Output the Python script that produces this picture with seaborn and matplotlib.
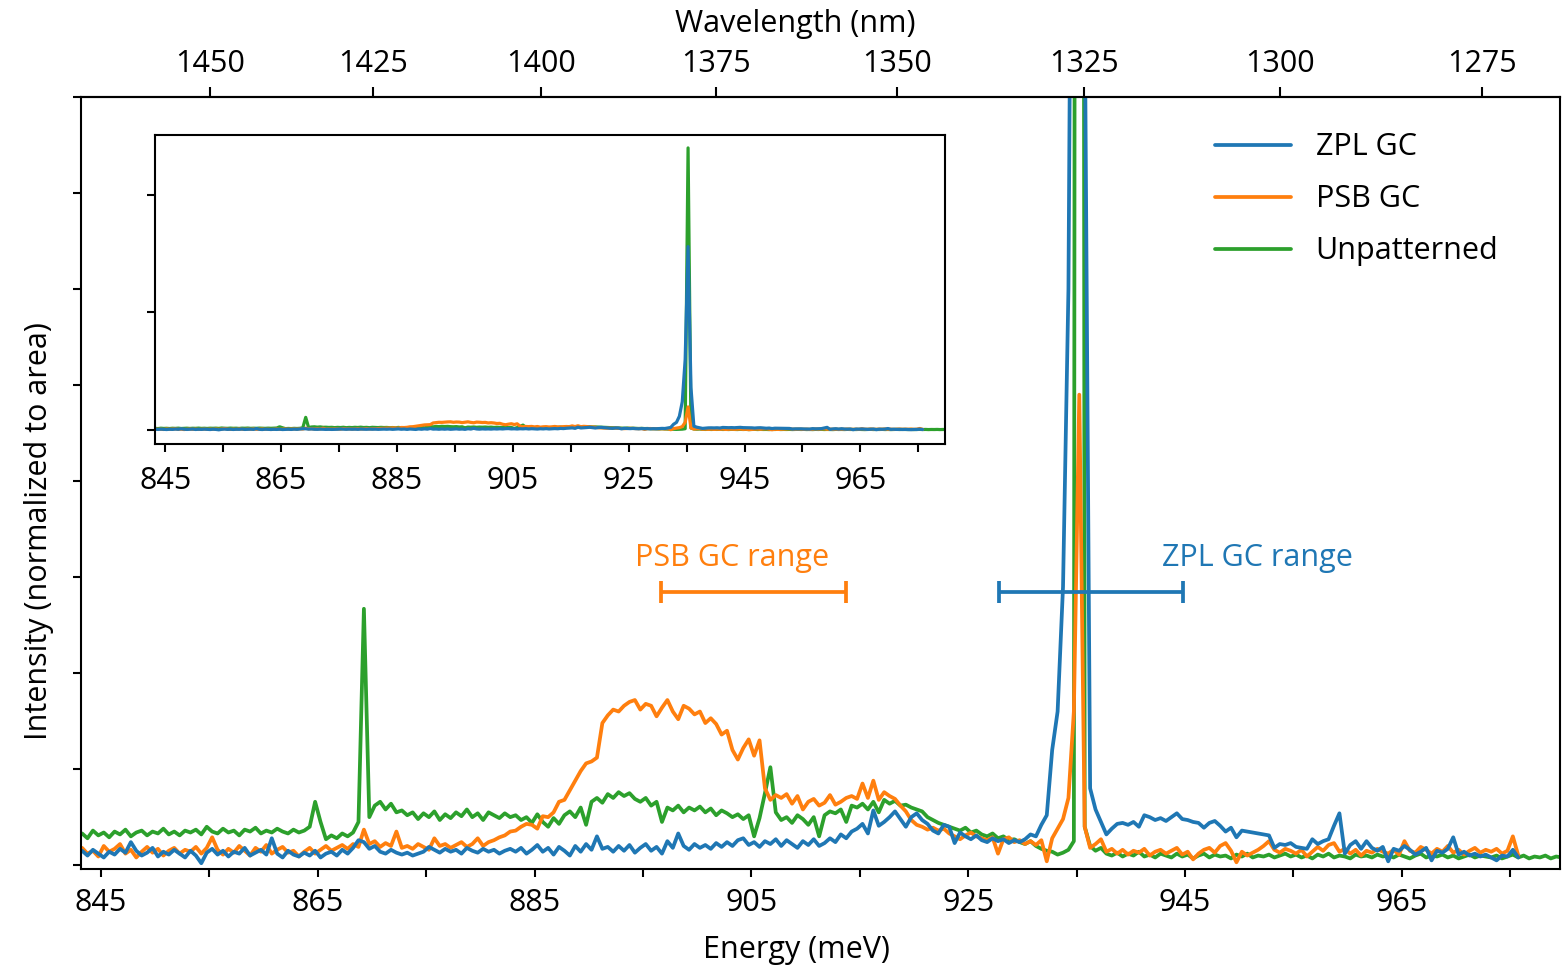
import numpy as np
import pandas as pd
import matplotlib
matplotlib.use("Agg")
import matplotlib.pyplot as plt
import seaborn as sns

# ---------------- data ----------------
E_START = 843.25   # meV, first sample
E_STEP = 0.5       # meV, sample spacing

zpl_gc = [
    0.15, 0.10, 0.16, 0.12, 0.08, 0.14, 0.11, 0.17, 0.13, 0.24, 0.15, 0.10, 0.13, 0.18, 0.09, 0.14, 0.11, 0.16, 0.12, 0.08,
    0.15, 0.10, 0.02, 0.13, 0.17, 0.11, 0.15, 0.09, 0.14, 0.12, 0.18, 0.10, 0.13, 0.16, 0.11, 0.28, 0.12, 0.08, 0.15, 0.11,
    0.09, 0.13, 0.10, 0.15, 0.08, 0.12, 0.14, 0.10, 0.16, 0.12, 0.18, 0.26, 0.24, 0.17, 0.20, 0.14, 0.12, 0.16, 0.13, 0.11,
    0.13, 0.10, 0.12, 0.14, 0.19, 0.16, 0.13, 0.17, 0.14, 0.16, 0.12, 0.18, 0.15, 0.13, 0.17, 0.14, 0.16, 0.12, 0.15, 0.17,
    0.14, 0.18, 0.12, 0.16, 0.21, 0.14, 0.18, 0.11, 0.19, 0.15, 0.10, 0.20, 0.14, 0.22, 0.16, 0.30, 0.17, 0.19, 0.14, 0.20,
    0.15, 0.21, 0.13, 0.18, 0.22, 0.15, 0.19, 0.12, 0.25, 0.18, 0.33, 0.20, 0.16, 0.22, 0.18, 0.21, 0.17, 0.23, 0.19, 0.24,
    0.20, 0.26, 0.28, 0.21, 0.24, 0.19, 0.25, 0.22, 0.27, 0.20, 0.26, 0.22, 0.18, 0.25, 0.21, 0.27, 0.20, 0.23, 0.28, 0.24,
    0.32, 0.28, 0.35, 0.38, 0.43, 0.33, 0.57, 0.41, 0.45, 0.50, 0.56, 0.48, 0.40, 0.50, 0.54, 0.47, 0.43, 0.36, 0.33, 0.42,
    0.40, 0.23, 0.34, 0.30, 0.27, 0.31, 0.26, 0.24, 0.28, 0.25, 0.27, 0.23, 0.26, 0.24, 0.27, 0.32, 0.30, 0.42, 0.52, 1.20,
    1.60, 2.90, 6.00, 15.0, 39.0, 9.00, 0.80, 0.58, 0.45, 0.32, 0.38, 0.43, 0.44, 0.42, 0.45, 0.40, 0.52, 0.50, 0.47, 0.49,
    0.46, 0.50, 0.54, 0.48, 0.47, 0.45, 0.44, 0.39, 0.44, 0.46, 0.41, 0.35, 0.39, 0.29, 0.36, 0.35, 0.34, 0.33, 0.32, 0.31,
    0.18, 0.22, 0.21, 0.23, 0.19, 0.18, 0.17, 0.27, 0.22, 0.25, 0.27, 0.41, 0.54, 0.12, 0.21, 0.25, 0.17, 0.25, 0.18, 0.15,
    0.19, 0.04, 0.17, 0.15, 0.20, 0.16, 0.11, 0.14, 0.18, 0.05, 0.15, 0.13, 0.17, 0.29, 0.11, 0.14, 0.10, 0.12, 0.09, 0.11,
    0.08, 0.05, 0.10, 0.09, 0.16, 0.08,
]

psb_gc = [
    0.18, 0.12, 0.15, 0.09, 0.20, 0.14, 0.17, 0.22, 0.12, 0.16, 0.08, 0.14, 0.19, 0.13, 0.17, 0.10, 0.15, 0.18, 0.12, 0.16,
    0.14, 0.19, 0.12, 0.18, 0.29, 0.16, 0.11, 0.17, 0.13, 0.20, 0.15, 0.10, 0.18, 0.14, 0.21, 0.12, 0.16, 0.19, 0.13, 0.15,
    0.09, 0.14, 0.18, 0.12, 0.16, 0.20, 0.15, 0.18, 0.21, 0.17, 0.22, 0.19, 0.37, 0.22, 0.25, 0.19, 0.23, 0.20, 0.35, 0.18,
    0.20, 0.17, 0.22, 0.19, 0.16, 0.28, 0.20, 0.22, 0.18, 0.21, 0.24, 0.19, 0.22, 0.28, 0.20, 0.24, 0.26, 0.29, 0.31, 0.35,
    0.36, 0.40, 0.43, 0.42, 0.38, 0.51, 0.50, 0.55, 0.66, 0.68, 0.78, 0.88, 0.98, 1.06, 1.08, 1.12, 1.48, 1.56, 1.62, 1.60,
    1.66, 1.70, 1.72, 1.62, 1.68, 1.66, 1.55, 1.64, 1.72, 1.60, 1.52, 1.66, 1.63, 1.57, 1.60, 1.48, 1.53, 1.47, 1.36, 1.40,
    1.20, 1.10, 1.22, 1.31, 1.14, 1.30, 0.80, 0.68, 0.73, 0.70, 0.74, 0.64, 0.72, 0.58, 0.66, 0.69, 0.62, 0.65, 0.73, 0.63,
    0.66, 0.70, 0.72, 0.69, 0.85, 0.70, 0.88, 0.68, 0.76, 0.72, 0.69, 0.62, 0.56, 0.47, 0.42, 0.40, 0.37, 0.39, 0.36, 0.38,
    0.33, 0.30, 0.27, 0.31, 0.34, 0.30, 0.28, 0.26, 0.29, 0.12, 0.27, 0.29, 0.24, 0.26, 0.22, 0.25, 0.21, 0.26, 0.04, 0.28,
    0.38, 0.48, 0.70, 1.60, 4.90, 0.40, 0.18, 0.22, 0.27, 0.14, 0.17, 0.12, 0.16, 0.11, 0.15, 0.13, 0.17, 0.10, 0.14, 0.16,
    0.12, 0.15, 0.18, 0.11, 0.14, 0.06, 0.12, 0.16, 0.18, 0.13, 0.20, 0.23, 0.15, 0.03, 0.14, 0.10, 0.13, 0.16, 0.20, 0.25,
    0.16, 0.13, 0.17, 0.15, 0.12, 0.16, 0.09, 0.14, 0.19, 0.15, 0.21, 0.23, 0.14, 0.17, 0.12, 0.16, 0.10, 0.15, 0.13, 0.17,
    0.14, 0.12, 0.16, 0.11, 0.25, 0.15, 0.13, 0.19, 0.16, 0.12, 0.17, 0.14, 0.20, 0.13, 0.16, 0.11, 0.15, 0.18, 0.13, 0.16,
    0.14, 0.17, 0.12, 0.15, 0.30, 0.10,
]

unpatterned = [
    0.33, 0.28, 0.36, 0.31, 0.34, 0.29, 0.35, 0.32, 0.37, 0.30, 0.34, 0.36, 0.31, 0.35, 0.33, 0.38, 0.32, 0.35, 0.31, 0.36,
    0.34, 0.37, 0.32, 0.40, 0.35, 0.33, 0.38, 0.34, 0.36, 0.31, 0.37, 0.35, 0.39, 0.33, 0.36, 0.34, 0.38, 0.35, 0.33, 0.37,
    0.34, 0.36, 0.40, 0.66, 0.45, 0.27, 0.31, 0.28, 0.33, 0.30, 0.34, 0.45, 2.67, 0.50, 0.62, 0.66, 0.58, 0.64, 0.55, 0.57,
    0.52, 0.55, 0.48, 0.54, 0.50, 0.56, 0.47, 0.53, 0.49, 0.55, 0.51, 0.58, 0.50, 0.54, 0.47, 0.55, 0.52, 0.49, 0.54, 0.50,
    0.52, 0.47, 0.50, 0.44, 0.53, 0.45, 0.40, 0.49, 0.43, 0.52, 0.56, 0.50, 0.60, 0.42, 0.66, 0.70, 0.65, 0.74, 0.70, 0.76,
    0.72, 0.75, 0.69, 0.66, 0.70, 0.62, 0.66, 0.45, 0.60, 0.57, 0.62, 0.55, 0.60, 0.57, 0.61, 0.55, 0.59, 0.52, 0.57, 0.54,
    0.50, 0.53, 0.48, 0.52, 0.30, 0.49, 0.75, 1.02, 0.55, 0.47, 0.50, 0.44, 0.52, 0.48, 0.42, 0.50, 0.30, 0.52, 0.56, 0.54,
    0.58, 0.45, 0.62, 0.60, 0.64, 0.58, 0.66, 0.55, 0.68, 0.64, 0.67, 0.62, 0.63, 0.60, 0.58, 0.56, 0.50, 0.47, 0.44, 0.42,
    0.40, 0.38, 0.36, 0.39, 0.34, 0.36, 0.32, 0.30, 0.33, 0.28, 0.30, 0.26, 0.27, 0.24, 0.22, 0.25, 0.20, 0.17, 0.15, 0.14,
    0.11, 0.13, 0.16, 0.25, 60.0, 0.40, 0.20, 0.15, 0.18, 0.12, 0.10, 0.13, 0.09, 0.12, 0.10, 0.14, 0.09, 0.11, 0.08, 0.12,
    0.10, 0.08, 0.12, 0.09, 0.11, 0.07, 0.10, 0.12, 0.08, 0.11, 0.09, 0.10, 0.07, 0.11, 0.09, 0.12, 0.08, 0.10, 0.09, 0.11,
    0.08, 0.10, 0.12, 0.09, 0.11, 0.08, 0.10, 0.07, 0.11, 0.09, 0.12, 0.08, 0.10, 0.09, 0.07, 0.11, 0.09, 0.10, 0.08, 0.11,
    0.09, 0.10, 0.08, 0.11, 0.09, 0.07, 0.10, 0.12, 0.08, 0.10, 0.09, 0.11, 0.08, 0.10, 0.07, 0.09, 0.11, 0.08, 0.10, 0.09,
    0.08, 0.10, 0.07, 0.09, 0.11, 0.08, 0.10, 0.07, 0.09, 0.08, 0.10, 0.07, 0.09, 0.08,
]

series_names = ["ZPL GC", "PSB GC", "Unpatterned"]
energy_ticks = [845, 855, 865, 875, 885, 895, 905, 915, 925, 935, 945, 955, 965, 975]
energy_labels = ["845", "", "865", "", "885", "", "905", "", "925", "", "945", "", "965", ""]
wavelength_ticks = [1450, 1425, 1400, 1375, 1350, 1325, 1300, 1275]

range_labels = ["PSB GC range", "ZPL GC range"]
range_centers = [905.2, 936.3]
range_halfwidths = [8.5, 8.5]
range_level = 2.85
range_text_x = [903.2, 951.7]
range_text_y = 3.2

HC = 1239841.98  # meV*nm

# ---------------- style ----------------
sns.set_theme(style="ticks")
plt.rcParams["font.family"] = ["Open Sans", "DejaVu Sans"]
FS = 22
plt.rcParams.update({
    "axes.linewidth": 1.5,
    "xtick.major.width": 1.5,
    "ytick.major.width": 1.5,
    "xtick.major.size": 6,
    "ytick.major.size": 6,
    "xtick.direction": "out",
    "ytick.direction": "out",
    "axes.edgecolor": "black",
    "xtick.color": "black",
    "ytick.color": "black",
    "text.color": "black",
    "axes.labelcolor": "black",
})

colors = {"ZPL GC": "#1f77b4", "PSB GC": "#ff7f0e", "Unpatterned": "#2ca02c"}
data = {"ZPL GC": zpl_gc, "PSB GC": psb_gc, "Unpatterned": unpatterned}

frames = []
for name in series_names:
    vals = np.asarray(data[name], dtype=float)
    e = E_START + E_STEP * np.arange(len(vals))
    frames.append(pd.DataFrame({"energy": e, "intensity": vals, "series": name}))
df = pd.concat(frames, ignore_index=True)

fig = plt.figure(figsize=(15.68, 9.68), dpi=100)
W, H = 1568, 968
ax = fig.add_axes([81 / W, (H - 869) / H, (1560 - 81) / W, (869 - 97) / H])

LW = 2.7
draw_order = ["Unpatterned", "PSB GC", "ZPL GC"]
for name in draw_order:
    sub = df[df["series"] == name]
    sns.lineplot(data=sub, x="energy", y="intensity", color=colors[name], lw=LW,
                 estimator=None, sort=True, ax=ax, label=name, legend=False)

ax.set_xlim(843.15, 979.6)
ax.set_ylim(-0.04, 8.0)
ax.set_yticks(range(0, 9))
ax.set_yticklabels([])
ax.set_xticks(energy_ticks)
ax.set_xticklabels(energy_labels, fontsize=FS)
ax.tick_params(axis="x", pad=8)
ax.set_xlabel("Energy (meV)", fontsize=FS, labelpad=12)
ax.set_ylabel("Intensity (normalized to area)", fontsize=FS, labelpad=10)
ax.xaxis.label.set_x(0.484)
ax.yaxis.label.set_y(0.438)

def e2w(e):
    e = np.asarray(e, dtype=float)
    with np.errstate(divide="ignore", invalid="ignore"):
        return np.where(e == 0, np.inf, HC / np.where(e == 0, 1, e))

sec = ax.secondary_xaxis("top", functions=(e2w, e2w))
sec.set_xticks(wavelength_ticks)
sec.set_xticklabels([str(w) for w in wavelength_ticks], fontsize=FS)
sec.tick_params(axis="x", direction="out", length=7, width=1.5, pad=6)
sec.set_xlabel("Wavelength (nm)", fontsize=FS, labelpad=12)
sec.xaxis.label.set_x(0.483)

# range bars
range_colors = ["#ff7f0e", "#1f77b4"]
for lab, c, hw, tx, col in zip(range_labels, range_centers, range_halfwidths, range_text_x, range_colors):
    ax.errorbar(c, range_level, xerr=hw, fmt="none", ecolor=col, elinewidth=LW,
                capsize=8, capthick=LW, zorder=5)
    ax.text(tx, range_text_y, lab, color=col, fontsize=FS, ha="center", va="center")

# legend (order: ZPL, PSB, Unpatterned)
handles = [plt.Line2D([], [], color=colors[n], lw=LW) for n in series_names]
ax.legend(handles, series_names, loc="upper right", frameon=False, fontsize=FS,
          handlelength=2.5, handletextpad=0.8, labelspacing=0.72,
          bbox_to_anchor=(0.977, 0.99))

# inset
axi = fig.add_axes([154.5 / W, (H - 444) / H, (945 - 154.5) / W, (444 - 135) / H])
for name in draw_order:
    sub = df[df["series"] == name]
    sns.lineplot(data=sub, x="energy", y="intensity", color=colors[name], lw=2.3,
                 estimator=None, sort=True, ax=axi, legend=False)
axi.set_xlim(843.15, 979.6)
axi.set_ylim(-3, 62.75)
axi.set_yticks([0, 25, 50])
axi.set_yticklabels([])
axi.set_xticks(energy_ticks)
axi.set_xticklabels(energy_labels, fontsize=FS)
axi.tick_params(axis="x", pad=10)
axi.set_xlabel("")
axi.set_ylabel("")
for sp in axi.spines.values():
    sp.set_linewidth(1.5)
for sp in ax.spines.values():
    sp.set_linewidth(1.5)

fig.savefig("out.png", dpi=100)
